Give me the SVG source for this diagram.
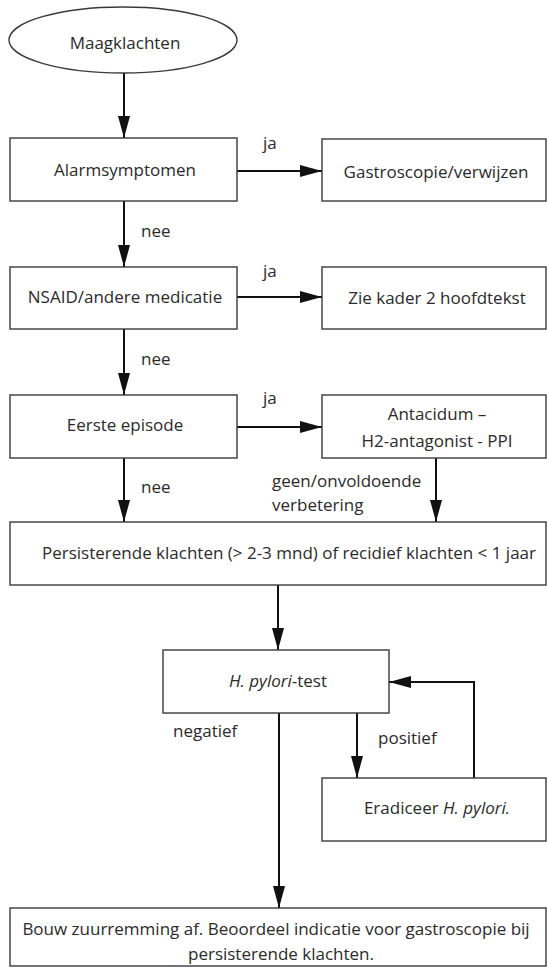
<svg xmlns="http://www.w3.org/2000/svg" width="547" height="969" viewBox="0 0 547 969">
<style>
.box{fill:#fff;stroke:#3a3a3a;stroke-width:1.4}
.t{font-family:"Open Sans","Noto Sans",sans-serif;font-size:17px;fill:#2a2a2a;text-anchor:middle;dominant-baseline:central}
.l{font-family:"Open Sans","Noto Sans",sans-serif;font-size:17px;fill:#2a2a2a;dominant-baseline:central}
.c{fill:none;stroke:#111;stroke-width:2}
</style>
<defs>
<marker id="ah" markerWidth="22" markerHeight="12" refX="22" refY="6" orient="auto" markerUnits="userSpaceOnUse">
<path d="M0,0 L22,6 L0,12 Z" fill="#111"/>
</marker>
</defs>
<rect width="547" height="969" fill="#fff"/>
<g id="connectors">
<path class="c" d="M124,73 V138" marker-end="url(#ah)"/>
<path class="c" d="M237,171 H322" marker-end="url(#ah)"/>
<path class="c" d="M124,201 V267" marker-end="url(#ah)"/>
<path class="c" d="M237,297 H322" marker-end="url(#ah)"/>
<path class="c" d="M124,329 V395" marker-end="url(#ah)"/>
<path class="c" d="M237,427 H322" marker-end="url(#ah)"/>
<path class="c" d="M436,458 V522" marker-end="url(#ah)"/>
<path class="c" d="M124,458 V522" marker-end="url(#ah)"/>
<path class="c" d="M278,585 V650" marker-end="url(#ah)"/>
<path class="c" d="M279,713 V908" marker-end="url(#ah)"/>
<path class="c" d="M357,713 V778" marker-end="url(#ah)"/>
<path class="c" d="M474,778 V682 H389" marker-end="url(#ah)"/>
<text class="l" x="263" y="142">ja</text>
<text class="l" x="263" y="270">ja</text>
<text class="l" x="263" y="397">ja</text>
<text class="l" x="141" y="230">nee</text>
<text class="l" x="141" y="358">nee</text>
<text class="l" x="141" y="486">nee</text>
<text class="l" x="272" y="480">geen/onvoldoende</text>
<text class="l" x="272" y="504">verbetering</text>
<text class="l" x="173" y="730">negatief</text>
<text class="l" x="378" y="737">positief</text>
</g>
<g id="n-maag">
<ellipse class="box" cx="123" cy="40" rx="114" ry="33"/>
<text class="t" x="125" y="42">Maagklachten</text>
</g>
<g id="n-alarm">
<rect class="box" x="10" y="138" width="227" height="63"/>
<text class="t" x="125" y="169">Alarmsymptomen</text>
</g>
<g id="n-gastro">
<rect class="box" x="322" y="139" width="224" height="62"/>
<text class="t" x="436" y="171">Gastroscopie/verwijzen</text>
</g>
<g id="n-nsaid">
<rect class="box" x="10" y="267" width="227" height="62"/>
<text class="t" x="125" y="296">NSAID/andere medicatie</text>
</g>
<g id="n-kader">
<rect class="box" x="322" y="267" width="224" height="62"/>
<text class="t" x="437" y="297">Zie kader 2 hoofdtekst</text>
</g>
<g id="n-eerste">
<rect class="box" x="10" y="395" width="227" height="63"/>
<text class="t" x="125" y="424">Eerste episode</text>
</g>
<g id="n-antacidum">
<rect class="box" x="322" y="395" width="224" height="63"/>
<text class="t" x="437" y="413">Antacidum –</text>
<text class="t" x="437" y="440">H2-antagonist - PPI</text>
</g>
<g id="n-persist">
<rect class="box" x="10" y="522" width="536" height="63"/>
<text class="t" x="289" y="552">Persisterende klachten (&gt; 2-3 mnd) of recidief klachten &lt; 1 jaar</text>
</g>
<g id="n-hpylori">
<rect class="box" x="163" y="650" width="226" height="63"/>
<text class="t" x="278" y="680"><tspan font-style="italic">H. pylori</tspan>-test</text>
</g>
<g id="n-eradiceer">
<rect class="box" x="322" y="778" width="224" height="63"/>
<text class="t" x="437" y="807">Eradiceer <tspan font-style="italic">H. pylori.</tspan></text>
</g>
<g id="n-bouw">
<rect class="box" x="10" y="908" width="536" height="58"/>
<text class="t" x="276" y="928">Bouw zuurremming af. Beoordeel indicatie voor gastroscopie bij</text>
<text class="t" x="281" y="953">persisterende klachten.</text>
</g>
</svg>
